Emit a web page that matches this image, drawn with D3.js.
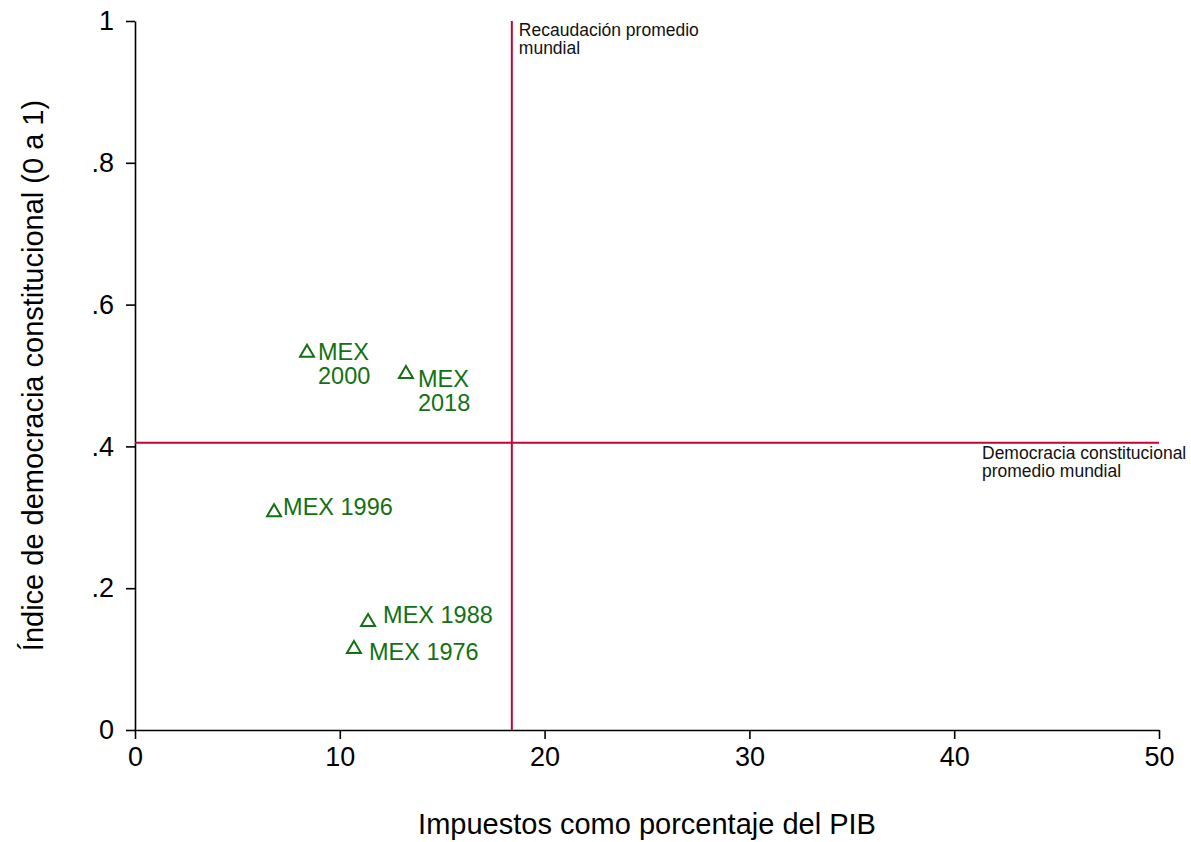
<!DOCTYPE html>
<html>
<head>
<meta charset="utf-8">
<script src="https://cdn.jsdelivr.net/npm/d3@7"></script>
<style>
  body { margin: 0; background: #fff; }
  svg { font-family: "Liberation Sans", Arial, sans-serif; }
</style>
</head>
<body>
<svg class="scatter"></svg>
<script>
// data
var labels = ["MEX 2000", "MEX 2018", "MEX 1996", "MEX 1988", "MEX 1976"];
var taxes = [8.40, 13.23, 6.79, 11.38, 10.69];
var democracy = [0.535, 0.505, 0.310, 0.155, 0.117];
var worldTax = 18.4;
var worldDemocracy = 0.405;
var xTicks = [0, 10, 20, 30, 40, 50];
var yTicks = [0, 0.2, 0.4, 0.6, 0.8, 1];

// label placement (pixels from the marker), like marker label positions
var labelDx = [11, 12, 9, 15, 15];
var labelDy = [9, 15, 5, 3, 13];
var labelSplit = [true, true, false, false, false];

var width = 1191, height = 842;
var margin = {top: 21, right: 32, bottom: 112, left: 135};
var chartWidth = width - margin.left - margin.right;
var chartHeight = height - margin.top - margin.bottom;

var red = "#c10534", green = "#137013";

var x = d3.scaleLinear().domain([0, 50]).range([0, chartWidth]);
var y = d3.scaleLinear().domain([0, 1]).range([chartHeight, 0]);

var svg = d3.select(".scatter")
    .attr("width", width)
    .attr("height", height);

var g = svg.append("g")
    .attr("transform", "translate(" + margin.left + "," + margin.top + ")");

function yFormat(d) {
    if (d === 0) return "0";
    if (d === 1) return "1";
    return d3.format(".1f")(d).replace("0.", ".");
}

var xAxis = d3.axisBottom(x).tickValues(xTicks).tickSize(9).tickSizeOuter(0).tickPadding(8);
var yAxis = d3.axisLeft(y).tickValues(yTicks).tickSize(9).tickSizeOuter(0).tickPadding(12).tickFormat(yFormat);

function styleAxis(sel) {
    sel.selectAll("path, line").attr("stroke", "#000").attr("stroke-width", 1.6);
    sel.selectAll("text").attr("fill", "#000").style("font-size", "27px")
        .style("font-family", "'Liberation Sans', Arial, sans-serif");
}

g.append("g")
    .attr("transform", "translate(0," + chartHeight + ")")
    .call(xAxis)
    .call(styleAxis);

g.append("g")
    .call(yAxis)
    .call(styleAxis);

// world average reference lines
g.append("line")
    .attr("x1", x(worldTax)).attr("x2", x(worldTax))
    .attr("y1", y(1)).attr("y2", y(0))
    .attr("stroke", red).attr("stroke-width", 2);

g.append("line")
    .attr("x1", x(0)).attr("x2", x(50))
    .attr("y1", y(worldDemocracy)).attr("y2", y(worldDemocracy))
    .attr("stroke", red).attr("stroke-width", 2);

var note1 = g.append("text")
    .attr("x", x(worldTax) + 7)
    .attr("y", y(1) + 15)
    .style("font-size", "17.5px")
    .attr("fill", "#111");
note1.append("tspan").text("Recaudación promedio");
note1.append("tspan").attr("x", x(worldTax) + 7).attr("dy", 18).text("mundial");

var note2 = g.append("text")
    .attr("x", 847)
    .attr("y", y(worldDemocracy) + 16)
    .style("font-size", "17.5px")
    .attr("fill", "#111");
note2.append("tspan").text("Democracia constitucional");
note2.append("tspan").attr("x", 847).attr("dy", 18).text("promedio mundial");

// points
var points = d3.range(labels.length).map(function(i) {
    return {label: labels[i], tax: taxes[i], dem: democracy[i], dx: labelDx[i], dy: labelDy[i], split: labelSplit[i]};
});

var tri = "M0,-6 L7,6 L-7,6 Z";

var pt = g.selectAll(".pt")
    .data(points)
    .enter().append("g")
    .attr("class", "pt")
    .attr("transform", function(d) { return "translate(" + x(d.tax) + "," + y(d.dem) + ")"; });

pt.append("path")
    .attr("d", tri)
    .attr("fill", "none")
    .attr("stroke", green)
    .attr("stroke-width", 2)
    .attr("stroke-linejoin", "miter");

pt.each(function(d) {
    var t = d3.select(this).append("text")
        .attr("x", d.dx)
        .attr("y", d.dy)
        .attr("fill", green)
        .style("font-size", "23.5px");
    if (d.split) {
        var parts = d.label.split(" ");
        t.append("tspan").text(parts[0]);
        t.append("tspan").attr("x", d.dx).attr("dy", 24).text(parts[1]);
    } else {
        t.text(d.label);
    }
});

// axis titles
svg.append("text")
    .attr("x", margin.left + chartWidth / 2)
    .attr("y", 834)
    .attr("text-anchor", "middle")
    .style("font-size", "29px")
    .text("Impuestos como porcentaje del PIB");

svg.append("text")
    .attr("transform", "translate(43," + (margin.top + chartHeight / 2) + ") rotate(-90)")
    .attr("text-anchor", "middle")
    .style("font-size", "29px")
    .text("Índice de democracia constitucional (0 a 1)");
</script>
</body>
</html>
